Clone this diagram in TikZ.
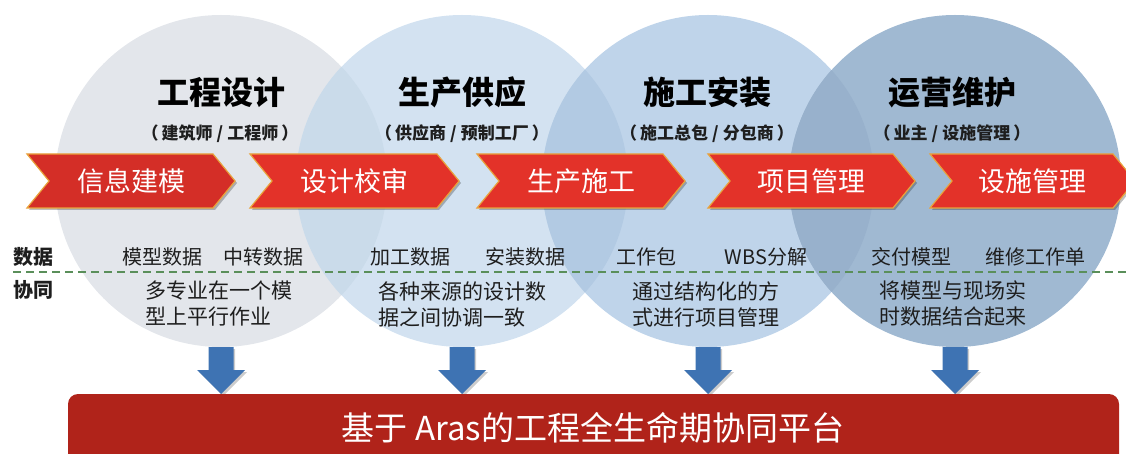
\documentclass[tikz,border=0pt]{standalone}
\usepackage{fontspec}
\setmainfont{Noto Sans CJK SC}
\definecolor{cA}{HTML}{E3E6EB}
\definecolor{cB}{HTML}{D3E2F1}
\definecolor{cC}{HTML}{BFD4EA}
\definecolor{cD}{HTML}{A0B9D2}
\definecolor{oAB}{HTML}{CADBEA}
\definecolor{oBC}{HTML}{B2CAE3}
\definecolor{oCD}{HTML}{98B1CC}
\definecolor{chevred}{HTML}{E33229}
\definecolor{chevdark}{HTML}{D42E27}
\definecolor{chevgold}{HTML}{E9A23B}
\definecolor{arrowblue}{HTML}{3E73B3}
\definecolor{barred}{HTML}{B0231A}
\definecolor{dashgreen}{HTML}{5A8F5A}
\definecolor{txt}{HTML}{1E1E1E}
\newcommand\mychev[5]{%
  \fill[black,opacity=0.25] ({#1+2},156) -- ({#2+2},156) -- ({#2+24},183) -- ({#2+2},210) -- ({#1+2},210) -- ({#1+24},183) -- cycle;
  \draw[chevgold,line width=1.2pt,fill=#3] (#1,154) -- (#2,154) -- ({#2+22},181) -- (#2,208) -- (#1,208) -- ({#1+22},181) -- cycle;
  \node[chevtext] (#4) at ({(#1+22+#2)/2},181) {#5};}
\newcommand\myarrow[1]{%
  \fill[black,opacity=0.2] ({#1-11},349) -- ({#1+14},349) -- ({#1+14},372) -- ({#1+26},372) -- ({#1+2},396) -- ({#1-22},372) -- ({#1-11},372) -- cycle;
  \fill[arrowblue] ({#1-12.5},347) -- ({#1+12.5},347) -- ({#1+12.5},370) -- ({#1+24},370) -- (#1,394) -- ({#1-24},370) -- ({#1-12.5},370) -- cycle;}
\newcommand\subsep{\hspace{4pt}/\hspace{4pt}}
\newcommand\lpar{（\hspace{3pt}}
\newcommand\rpar{\hspace{3pt}）}
\begin{document}
\begin{tikzpicture}[x=1pt,y=-1pt,
  titletext/.style={font=\fontsize{32}{36}\selectfont\bfseries,text=black,inner sep=0},
  subtext/.style={font=\fontsize{17}{20}\selectfont\bfseries,text=txt,inner sep=0},
  chevtext/.style={font=\fontsize{27}{30}\selectfont,text=white,inner sep=0},
  datatext/.style={font=\fontsize{20}{24}\selectfont,text=txt,inner sep=0},
  rowlabel/.style={font=\fontsize{20}{24}\selectfont\bfseries,text=txt,inner sep=0,anchor=west},
  collabtext/.style={font=\fontsize{21}{26}\selectfont,text=txt,inner sep=0,anchor=west,align=left},
  bartext/.style={font=\fontsize{33}{38}\selectfont,text=white,inner sep=0}]
\useasboundingbox (0,0) rectangle (1126,454);
% circles
\fill[cA] (221,181) circle (166);
\fill[cB] (462,181) circle (166);
\fill[cC] (708,181) circle (166);
\fill[cD] (955,181) circle (166);
\begin{scope}\clip (221,181) circle (166); \fill[oAB] (462,181) circle (166);\end{scope}
\begin{scope}\clip (462,181) circle (166); \fill[oBC] (708,181) circle (166);\end{scope}
\begin{scope}\clip (708,181) circle (166); \fill[oCD] (955,181) circle (166);\end{scope}
% dashed separator
\coordinate (dL) at (13,272);
\coordinate (dR) at (1126,272);
\draw[dashgreen,line width=1.6pt,dash pattern=on 8pt off 5pt] (dL) -- (dR);
% titles
\node[titletext] (t1) at (221,92) {工程设计};
\node[titletext] (t2) at (462,92) {生产供应};
\node[titletext] (t3) at (707,92) {施工安装};
\node[titletext] (t4) at (952,92) {运营维护};
\node[subtext] (s1) at (220,134) {\lpar 建筑师\subsep 工程师\rpar};
\node[subtext] (s2) at (462,134) {\lpar 供应商\subsep 预制工厂\rpar};
\node[subtext] (s3) at (707,134) {\lpar 施工总包\subsep 分包商\rpar};
\node[subtext] (s4) at (952,134) {\lpar 业主\subsep 设施管理\rpar};
% chevrons
\mychev{27}{213}{chevdark}{c1}{信息建模}
\mychev{250}{437}{chevred}{c2}{设计校审}
\mychev{477}{663}{chevred}{c3}{生产施工}
\mychev{708}{893}{chevred}{c4}{项目管理}
\mychev{930}{1113}{chevred}{c5}{设施管理}
% row labels
\node[rowlabel] (lData) at (13,257) {数据};
\node[rowlabel] (lCollab) at (13,290) {协同};
% data items
\node[datatext] (d1) at (162,257) {模型数据};
\node[datatext] (d2) at (263,257) {中转数据};
\node[datatext] (d3) at (410,257) {加工数据};
\node[datatext] (d4) at (525,257) {安装数据};
\node[datatext] (d5) at (646,257) {工作包};
\node[datatext] (d6) at (766,257) {WBS分解};
\node[datatext] (d7) at (911,257) {交付模型};
\node[datatext] (d8) at (1035,257) {维修工作单};
% collaboration texts
\node[collabtext] (k1) at (145,304) {多专业在一个模\\型上平行作业};
\node[collabtext] (k2) at (378,304) {各种来源的设计数\\据之间协调一致};
\node[collabtext] (k3) at (632,304) {通过结构化的方\\式进行项目管理};
\node[collabtext] (k4) at (879,304) {将模型与现场实\\时数据结合起来};
% arrows
\myarrow{221}
\myarrow{462}
\myarrow{708}
\myarrow{955}
% platform bar
\fill[barred,rounded corners=10pt] (68,394) rectangle (1119,480);
\node[bartext] (bar) at (593,428) {基于 Aras的工程全生命期协同平台};
\end{tikzpicture}
\end{document}
